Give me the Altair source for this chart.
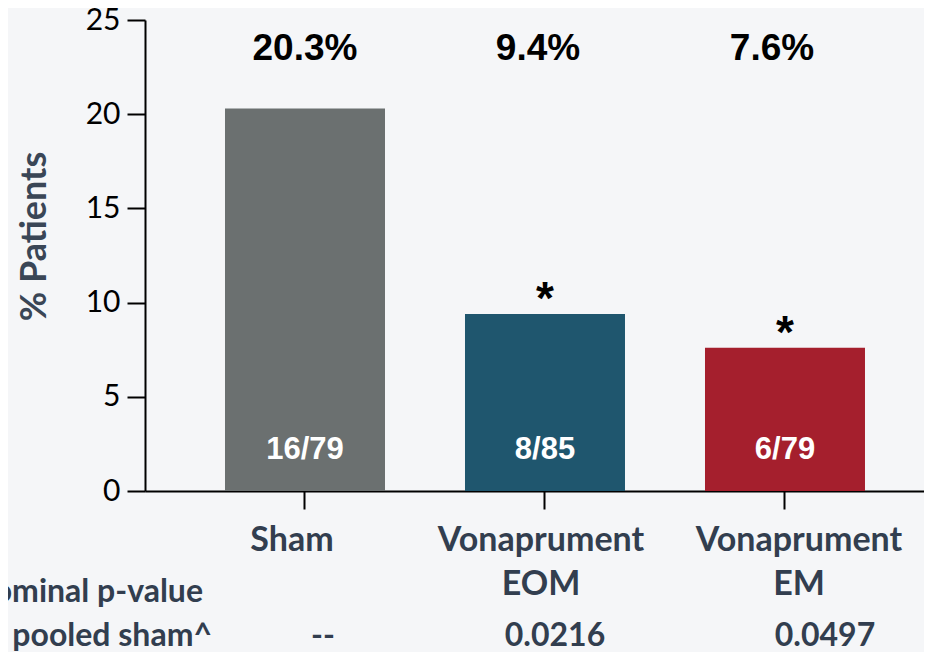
import altair as alt
import pandas as pd

categories = ["Sham", "Vonaprument EOM", "Vonaprument EM"]
label_line1 = ["Sham", "Vonaprument", "Vonaprument"]
label_line2 = ["", "EOM", "EM"]
values = [20.3, 9.4, 7.6]
pct_labels = ["20.3%", "9.4%", "7.6%"]
count_labels = ["16/79", "8/85", "6/79"]
stars = ["", "*", "*"]
p_values = ["--", "0.0216", "0.0497"]
colors = ["#6b7070", "#1f566e", "#a51f2d"]
y_ticks = [0, 5, 10, 15, 20, 25]
row_label_1 = ["Nominal p-value"]
row_label_2 = ["pooled sham^"]

df = pd.DataFrame({
    "category": categories,
    "line1": label_line1,
    "line2": label_line2,
    "value": values,
    "pct": pct_labels,
    "count": count_labels,
    "star": stars,
    "p": p_values,
})

W, H = 779, 471
DARK = "#323e4f"

# per-category horizontal nudges of the slide's text boxes (pixels)
pct_dx = {"Sham": 0, "Vonaprument EOM": -7, "Vonaprument EM": -13}
lab_dx = {"Sham": -13, "Vonaprument EOM": -4, "Vonaprument EM": 14}
p_dx = {"Sham": 18, "Vonaprument EOM": 10, "Vonaprument EM": 40}

xscale = alt.Scale(domain=categories, paddingInner=1/3, paddingOuter=0.2896, align=0.5755)
x_axis = alt.Axis(
    title=None, labels=False,
    tickSize=18, tickWidth=2, tickColor="black", domainColor="black", domainWidth=2,
)
x_enc = alt.X("category:N", sort=categories, scale=xscale, axis=x_axis)

yscale = alt.Scale(domain=[0, 25], nice=False)
y_axis = alt.Axis(
    values=y_ticks, grid=False, title="% Patients",
    labelFont="Lato", labelFontSize=30, labelColor="black", labelPadding=7,
    tickSize=18, tickWidth=2, tickColor="black", domainColor="black", domainWidth=2,
    titleFont="Lato", titleFontSize=36, titleFontWeight="bold", titleColor="#3a4656",
    titleX=-100, titleY=216, titleBaseline="alphabetic", titleAngle=270,
)
y_enc = alt.Y("value:Q", scale=yscale, axis=y_axis)

base = alt.Chart(df)

bars = base.mark_bar().encode(
    x=x_enc, y=y_enc,
    color=alt.Color("category:N", sort=categories, scale=alt.Scale(domain=categories, range=colors), legend=None),
)


def per_cat(field, dx_map, ypix, **kw):
    out = []
    for cat in categories:
        out.append(
            base.transform_filter(alt.datum.category == cat)
            .mark_text(dx=dx_map[cat], baseline="alphabetic", **kw)
            .encode(x=x_enc, y=alt.value(ypix), text=f"{field}:N")
        )
    return out


pct_layers = per_cat("pct", pct_dx, 40, font="Liberation Sans", fontSize=37, fontWeight="bold", color="black")
lab1_layers = per_cat("line1", lab_dx, 531, font="Lato", fontSize=34, fontWeight="bold", color=DARK)
lab2_layers = per_cat("line2", lab_dx, 575, font="Lato", fontSize=34, fontWeight="bold", color=DARK)
p_layers = per_cat("p", p_dx, 626, font="Lato", fontSize=32, fontWeight="bold", color=DARK)

count_text = base.mark_text(font="Liberation Sans", fontSize=31, fontWeight="bold", color="white",
                            baseline="alphabetic").encode(x=x_enc, y=alt.value(439), text="count:N")

star_text = base.mark_text(font="Liberation Sans", fontSize=46, fontWeight="bold", color="black",
                           baseline="alphabetic", dy=0).encode(x=x_enc, y=y_enc, text="star:N")

row1 = alt.Chart(pd.DataFrame({"label": row_label_1})).mark_text(
    font="Lato", fontSize=32, fontWeight="bold", color=DARK, baseline="alphabetic", align="right"
).encode(x=alt.value(58), y=alt.value(582), text="label:N")

row2 = alt.Chart(pd.DataFrame({"label": row_label_2})).mark_text(
    font="Lato", fontSize=32, fontWeight="bold", color=DARK, baseline="alphabetic", align="right"
).encode(x=alt.value(67), y=alt.value(626), text="label:N")

chart = alt.layer(
    bars, count_text, star_text, *pct_layers, *lab1_layers, *lab2_layers, *p_layers, row1, row2
).properties(
    width=W, height=H,
    autosize=alt.AutoSizeParams(type="none"),
    padding={"left": 137, "top": 12, "right": 0, "bottom": 161},
    background="#f5f6f8",
).configure_view(stroke=None)

chart.save("out.html", embed_options={"renderer": "svg", "actions": False})
